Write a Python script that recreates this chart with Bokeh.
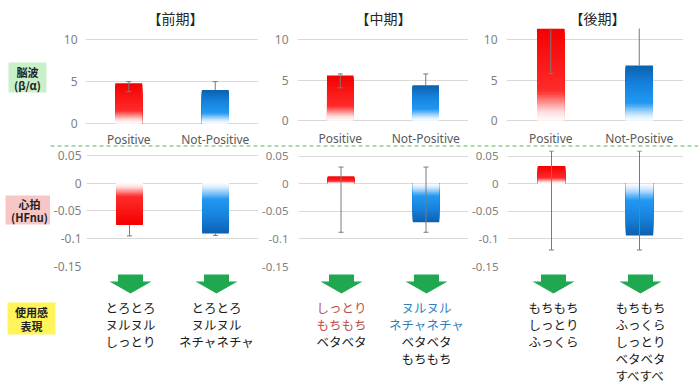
from bokeh.plotting import figure
from bokeh.layouts import row, column
from bokeh.models import Range1d, FactorRange, FixedTicker, NumeralTickFormatter
from bokeh.core.properties import value
from bokeh.embed import file_html
from bokeh.resources import INLINE

# ---------------- data ----------------
categories = ["Positive", "Not-Positive"]
periods = ["【前期】", "【中期】", "【後期】"]

eeg_pos = [4.8, 5.55, 11.5]
eeg_pos_lo = [3.8, 4.05, 5.8]
eeg_pos_hi = [5.0, 5.75, 17.2]
eeg_np = [4.0, 4.37, 6.8]
eeg_np_lo = [4.0, 4.37, 6.8]
eeg_np_hi = [5.0, 5.75, 12.6]
eeg_ticks = [0, 5, 10]

hr_pos = [-0.0754, 0.013, 0.032]
hr_pos_lo = [-0.095, -0.088, -0.12]
hr_pos_hi = [-0.0754, 0.030, 0.059]
hr_np = [-0.0906, -0.070, -0.094]
hr_np_lo = [-0.094, -0.088, -0.12]
hr_np_hi = [-0.0906, 0.030, 0.059]
hr_ticks = [-0.15, -0.1, -0.05, 0, 0.05]

row_labels = [["脳波", "(β/α)"], ["心拍", "(HFnu)"], ["使用感", "表現"]]

words = [
    ["とろとろ", "ヌルヌル", "しっとり"],
    ["とろとろ", "ヌルヌル", "ネチャネチャ"],
    ["しっとり", "もちもち", "ベタベタ"],
    ["ヌルヌル", "ネチャネチャ", "ベタベタ", "もちもち"],
    ["もちもち", "しっとり", "ふっくら"],
    ["もちもち", "ふっくら", "しっとり", "ベタベタ", "すべすべ"],
]
word_kind = [
    [0, 0, 0],
    [0, 0, 0],
    [1, 1, 0],
    [2, 2, 0, 0],
    [0, 0, 0],
    [0, 0, 0, 0, 0],
]

# ---------------- styles / layout (page pixels) ----------------
FONT = "Noto Sans"
JP = "Noto Sans CJK JP"
GRID = "#d9d9d9"
TICK_C = "#7f7f7f"
ERR_C = "#7a7a7a"
KIND_COLORS = ["#1a1a1a", "#c0504d", "#2f7fbf"]

LEFT_W = 50
fig_x = [(50, 258), (258, 468), (468, 698)]
frame_x = [(85, 258), (297, 468), (506, 683)]
TITLE_Y = (0, 26)
TOP_Y = (26, 131)
top_frame_top = [28, 27, 27]
top_zero_y = [123, 120, 120]
TOP_MAX = 11.35
STRIP_Y = (131, 147)
xlab_y = [139, 137.5, 137.5]
DASH_Y = 145.5
BOT_Y = (147, 274)
bot_frame_y = [(150, 266), (150, 269), (150, 269)]
bot_top_val = [0.0585, 0.06, 0.06]
TEXT_Y = (274, 392)
top_standoff = [8, 9, 9]
bot_standoff = [5, 10, 9]
bot_font = ["12px", "11.5px", "11.5px"]
title_x = [175, 383, 597]
col_x = [130, 216, 341, 426, 553, 640]

RED_STOPS = [(0.0, "#ffffff"), (0.1, "#ffdada"), (0.32, "#ff2b2b"), (1.0, "#f40000")]
BLUE_STOPS = [(0.0, "#ffffff"), (0.1, "#d2e9fd"), (0.32, "#2298f2"), (0.65, "#1683de"), (1.0, "#0d60ae")]


def hex2rgb(h):
    h = h.lstrip("#")
    return [int(h[i:i + 2], 16) for i in (0, 2, 4)]


def grad(stops, s):
    for (s0, c0), (s1, c1) in zip(stops[:-1], stops[1:]):
        if s <= s1:
            t = (s - s0) / (s1 - s0)
            a, b = hex2rgb(c0), hex2rgb(c1)
            return "#%02x%02x%02x" % tuple(int(round(a[i] + (b[i] - a[i]) * t)) for i in range(3))
    return stops[-1][1]


def base_fig(w, h, xr, yr, **kw):
    p = figure(width=w, height=h, x_range=xr, y_range=yr, toolbar_location=None,
               output_backend="svg", min_border=0, **kw)
    p.outline_line_color = None
    p.background_fill_color = "white"
    p.border_fill_color = "white"
    return p


def chart(i, rowy, fy, yr, ticks, means, los, his, standoff, tfont, formatter=None):
    w = fig_x[i][1] - fig_x[i][0]
    h = rowy[1] - rowy[0]
    p = base_fig(w, h, FactorRange(factors=categories, range_padding=0), yr,
                 x_axis_location=None)
    p.min_border_left = frame_x[i][0] - fig_x[i][0]
    p.min_border_right = fig_x[i][1] - frame_x[i][1]
    p.min_border_top = fy[0] - rowy[0]
    p.min_border_bottom = rowy[1] - fy[1]

    # gradient bars: nested bars from zero, longest first
    N = 40
    xs, tops, cols = [], [], []
    for cat, m, stops in zip(categories, means, [RED_STOPS, BLUE_STOPS]):
        for k in range(N - 1, -1, -1):
            xs.append(cat)
            tops.append(m * (k + 1) / N)
            cols.append(grad(stops, (k + 0.5) / N))
    p.vbar(x=xs, width=0.31, bottom=0, top=tops, fill_color=cols, line_color=None)

    p.segment(x0=categories, y0=los, x1=categories, y1=his, line_color=ERR_C, line_width=1)
    cx, cy = [], []
    for c, m, lo, hi in zip(categories, means, los, his):
        for v in (lo, hi):
            if abs(v - m) > 1e-9:
                cx.append(c)
                cy.append(v)
    p.scatter(x=cx, y=cy, marker="dash", size=5, line_color=ERR_C, line_width=1)

    p.yaxis.ticker = FixedTicker(ticks=ticks)
    p.ygrid.ticker = FixedTicker(ticks=ticks)
    p.ygrid.grid_line_color = GRID
    p.xgrid.visible = False
    p.yaxis.axis_line_color = None
    p.yaxis.major_tick_line_color = None
    p.yaxis.minor_tick_line_color = None
    p.yaxis.major_tick_out = 0
    p.yaxis.major_label_standoff = standoff
    p.yaxis.major_label_text_color = TICK_C
    p.yaxis.major_label_text_font = FONT
    p.yaxis.major_label_text_font_size = tfont
    if formatter is not None:
        p.yaxis.formatter = formatter
    return p


tops_figs, bot_figs = [], []
for i in range(3):
    ft, fz = top_frame_top[i], top_zero_y[i]
    ppu = (fz - ft) / TOP_MAX
    ystart = -(TOP_Y[1] - fz) / ppu
    tops_figs.append(chart(i, TOP_Y, (ft, TOP_Y[1]), Range1d(ystart, TOP_MAX), eeg_ticks,
                           [eeg_pos[i], eeg_np[i]], [eeg_pos_lo[i], eeg_np_lo[i]],
                           [eeg_pos_hi[i], eeg_np_hi[i]], top_standoff[i], "12px"))
    bot_figs.append(chart(i, BOT_Y, bot_frame_y[i], Range1d(-0.15, bot_top_val[i]), hr_ticks,
                          [hr_pos[i], hr_np[i]], [hr_pos_lo[i], hr_np_lo[i]],
                          [hr_pos_hi[i], hr_np_hi[i]], bot_standoff[i], bot_font[i],
                          NumeralTickFormatter(format="0.[00]")))

X0, X1 = fig_x[0][0], fig_x[2][1]
RW = X1 - X0

# titles
tf = base_fig(RW, TITLE_Y[1] - TITLE_Y[0], Range1d(X0, X1),
              Range1d(TITLE_Y[1], TITLE_Y[0]), x_axis_type=None, y_axis_type=None)
tf.text(x=title_x, y=[17] * 3, text=periods, text_font=value(JP), text_font_size="14px",
        text_align="center", text_baseline="middle", text_color="#262626")

# category labels strip + dashed separator
sf = base_fig(RW, STRIP_Y[1] - STRIP_Y[0], Range1d(X0, X1),
              Range1d(STRIP_Y[1], STRIP_Y[0]), x_axis_type=None, y_axis_type=None)
lx, ly, lt = [], [], []
for i in range(3):
    fw = frame_x[i][1] - frame_x[i][0]
    for j, c in enumerate(categories):
        lx.append(frame_x[i][0] + (j + 0.5) * fw / len(categories))
        ly.append(xlab_y[i])
        lt.append(c)
sf.text(x=lx, y=ly, text=lt, text_font=value(FONT), text_font_size="12px",
        text_align="center", text_baseline="middle", text_color="#595959")
sf.line(x=[X0, X1], y=[DASH_Y, DASH_Y], line_color="#8fd18f", line_width=1.5, line_dash="4 3")

# left labels
lf = base_fig(LEFT_W, BOT_Y[1], Range1d(0, LEFT_W), Range1d(BOT_Y[1], 0),
              x_axis_type=None, y_axis_type=None)
lf.quad(left=[8, 5], right=[46, 53], top=[62, 195], bottom=[92, 224],
        fill_color=["#c9f0c9", "#f7c7c7"], line_color=None)
lf.text(x=[27, 27, 29, 29], y=[71, 84, 203, 216],
        text=row_labels[0] + row_labels[1], text_font=value(JP), text_font_size="11px",
        text_font_style="bold", text_align="center", text_baseline="middle", text_color="#222222")

# bottom: arrows + expressions
bf = base_fig(698, TEXT_Y[1] - TEXT_Y[0], Range1d(0, 698), Range1d(TEXT_Y[1], TEXT_Y[0]),
              x_axis_type=None, y_axis_type=None)
bf.quad(left=[7], right=[55], top=[302], bottom=[334], fill_color="#fff55a", line_color=None)
bf.text(x=[31, 31], y=[311, 325], text=row_labels[2], text_font=value(JP),
        text_font_size="11px", text_font_style="bold", text_align="center",
        text_baseline="middle", text_color="#222222")
axs, ays = [], []
for cx in col_x:
    axs.append([cx - 12.5, cx + 12.5, cx + 12.5, cx + 21, cx, cx - 21, cx - 12.5])
    ays.append([272, 272, 281, 281, 293, 281, 281])
bf.patches(xs=axs, ys=ays, fill_color="#1fa84f", line_color=None)
tx, ty, tt, tc = [], [], [], []
for cx, ws, ks in zip(col_x, words, word_kind):
    for j, (w, k) in enumerate(zip(ws, ks)):
        tx.append(cx)
        ty.append(307 + 17.1 * j)
        tt.append(w)
        tc.append(KIND_COLORS[k])
bf.text(x=tx, y=ty, text=tt, text_color=tc, text_font=value(JP), text_font_size="12.5px",
        text_align="center", text_baseline="middle")

right = column(tf, row(*tops_figs), sf, row(*bot_figs))
root = column(row(lf, right), bf)

open("out.html", "w").write(file_html(root, INLINE))
